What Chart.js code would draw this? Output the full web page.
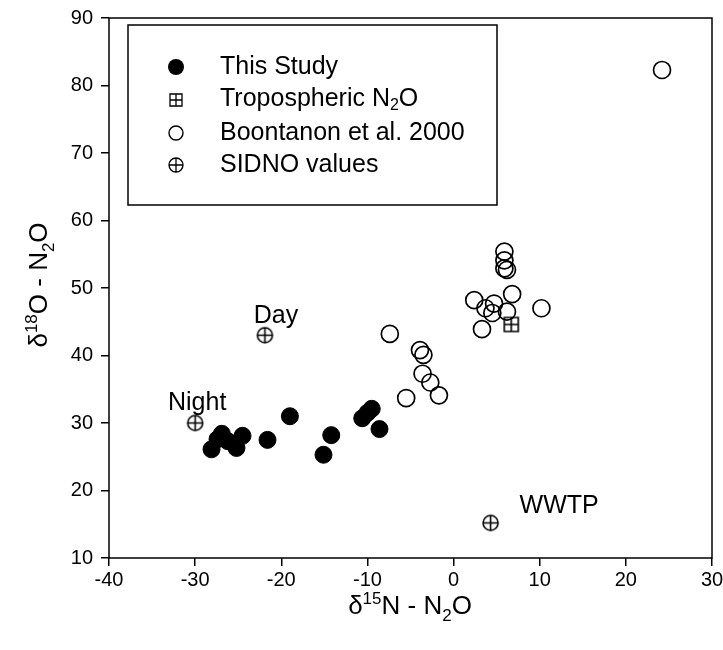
<!DOCTYPE html>
<html>
<head>
<meta charset="utf-8">
<script src="https://cdn.jsdelivr.net/npm/chart.js@4/dist/chart.umd.min.js"></script>
<style>
  html, body { margin: 0; padding: 0; background: #fff; }
  #wrap { width: 723px; height: 650px; }
</style>
</head>
<body>
<div id="wrap"><canvas id="isoChart" width="723" height="650"></canvas></div>
<script>
// values (d15N, d18O)
const studyN = [-28.1, -27.4, -26.9, -26.2, -25.2, -24.5, -21.6, -19.0, -14.2, -15.1, -10.6, -10.0, -9.5, -8.6];
const studyO = [26.1, 27.6, 28.4, 27.3, 26.3, 28.1, 27.5, 31.0, 28.2, 25.3, 30.7, 31.5, 32.1, 29.1];

const tropoN = [6.7];
const tropoO = [44.6];

const boonN = [-7.4, -3.9, -3.5, -3.6, -2.7, -1.7, -5.5, 5.9, 5.9, 5.9, 6.2, 2.4, 3.7, 4.7, 4.5, 6.8, 6.2, 10.2, 3.3, 24.2];
const boonO = [43.2, 40.8, 40.1, 37.3, 36.0, 34.1, 33.7, 55.4, 54.1, 52.9, 52.7, 48.2, 47.0, 47.7, 46.3, 49.1, 46.5, 47.0, 43.9, 82.3];

const sidnoN = [-30.0, -21.9, 4.3];
const sidnoO = [30.0, 43.0, 15.2];
const sidnoLabels = ['Night', 'Day', 'WWTP'];

const xTicks = [-40, -30, -20, -10, 0, 10, 20, 30];
const yTicks = [10, 20, 30, 40, 50, 60, 70, 80, 90];

const FONT = '"Liberation Sans", Arial, sans-serif';

function toPoints(xs, ys) {
    return xs.map((x, i) => ({ x: x, y: ys[i] }));
}

// marker drawing used both for points and legend
function drawCrossCircle(ctx, cx, cy, r, lw) {
    ctx.save();
    ctx.strokeStyle = '#000';
    ctx.lineWidth = lw;
    ctx.beginPath();
    ctx.arc(cx, cy, r, 0, Math.PI * 2);
    ctx.moveTo(cx - r, cy); ctx.lineTo(cx + r, cy);
    ctx.moveTo(cx, cy - r); ctx.lineTo(cx, cy + r);
    ctx.stroke();
    ctx.restore();
}

function drawPlusSquare(ctx, cx, cy, r, lw) {
    ctx.save();
    ctx.strokeStyle = '#000';
    ctx.lineWidth = lw;
    ctx.beginPath();
    ctx.rect(cx - r, cy - r, 2 * r, 2 * r);
    ctx.moveTo(cx - r, cy); ctx.lineTo(cx + r, cy);
    ctx.moveTo(cx, cy - r); ctx.lineTo(cx, cy + r);
    ctx.stroke();
    ctx.restore();
}

function makeMarker(fn, r, lw) {
    const c = document.createElement('canvas');
    const s = Math.ceil(2 * r + lw + 2);
    c.width = s; c.height = s;
    fn(c.getContext('2d'), s / 2, s / 2, r, lw);
    return c;
}

const crossCircleImg = makeMarker(drawCrossCircle, 7.5, 1.6);
const plusSquareImg = makeMarker(drawPlusSquare, 7, 1.6);

// text with super/subscripts: parts = [[text, 'n'|'sup'|'sub'], ...]
function richWidth(ctx, parts, size) {
    let total = 0;
    parts.forEach(p => {
        ctx.font = (p[1] === 'n' ? size : Math.round(size * 0.65)) + 'px ' + FONT;
        total += ctx.measureText(p[0]).width;
    });
    return total;
}

function drawRichLeft(ctx, parts, x, y, size) {
    let cx = x;
    parts.forEach(p => {
        const small = p[1] !== 'n';
        ctx.font = (small ? Math.round(size * 0.65) : size) + 'px ' + FONT;
        let dy = 0;
        if (p[1] === 'sup') dy = -size * 0.4;
        if (p[1] === 'sub') dy = size * 0.25;
        ctx.fillText(p[0], cx, y + dy);
        cx += ctx.measureText(p[0]).width;
    });
}

function drawRichText(ctx, parts, x, y, size) {
    drawRichLeft(ctx, parts, x - richWidth(ctx, parts, size) / 2, y, size);
}

const decorPlugin = {
    id: 'decor',
    afterDraw(chart) {
        const ctx = chart.ctx;
        const a = chart.chartArea;
        ctx.save();

        // frame
        ctx.strokeStyle = '#000';
        ctx.lineWidth = 1.5;
        ctx.strokeRect(a.left, a.top, a.right - a.left, a.bottom - a.top);

        ctx.fillStyle = '#000';
        ctx.textBaseline = 'alphabetic';

        // axis titles
        drawRichText(ctx, [['\u03b4', 'n'], ['15', 'sup'], ['N - N', 'n'], ['2', 'sub'], ['O', 'n']], 410, 614, 26);
        ctx.save();
        ctx.translate(47, 285);
        ctx.rotate(-Math.PI / 2);
        drawRichText(ctx, [['\u03b4', 'n'], ['18', 'sup'], ['O - N', 'n'], ['2', 'sub'], ['O', 'n']], 0, 0, 26);
        ctx.restore();

        // point labels for SIDNO
        const xs = chart.scales.x, ys = chart.scales.y;
        ctx.font = '25px ' + FONT;
        ctx.textAlign = 'center';
        ctx.fillText(sidnoLabels[0], xs.getPixelForValue(sidnoN[0]) + 2, ys.getPixelForValue(sidnoO[0]) - 13);
        ctx.fillText(sidnoLabels[1], xs.getPixelForValue(sidnoN[1]) + 11, ys.getPixelForValue(sidnoO[1]) - 12);
        ctx.textAlign = 'left';
        ctx.fillText(sidnoLabels[2], xs.getPixelForValue(sidnoN[2]) + 29, ys.getPixelForValue(sidnoO[2]) - 10);

        // legend
        ctx.lineWidth = 1.5;
        ctx.fillStyle = '#fff';
        ctx.fillRect(128, 25, 369, 180);
        ctx.strokeRect(128, 25, 369, 180);
        ctx.fillStyle = '#000';
        const mx = 176, tx = 220;
        const rows = [67, 99, 133, 165];
        ctx.beginPath();
        ctx.arc(mx, rows[0], 8, 0, Math.PI * 2);
        ctx.fill();
        drawPlusSquare(ctx, mx, rows[1] + 1, 6, 1.3);
        ctx.beginPath();
        ctx.lineWidth = 1.4;
        ctx.arc(mx, rows[2], 7, 0, Math.PI * 2);
        ctx.stroke();
        drawCrossCircle(ctx, mx, rows[3], 7, 1.3);

        ctx.textBaseline = 'middle';
        ctx.font = '25px ' + FONT;
        ctx.fillText('This Study', tx, rows[0]);
        drawRichLeft(ctx, [['Tropospheric N', 'n'], ['2', 'sub'], ['O', 'n']], tx, rows[1], 25);
        ctx.font = '25px ' + FONT;
        ctx.fillText('Boontanon et al. 2000', tx, rows[2]);
        ctx.fillText('SIDNO values', tx, rows[3]);

        ctx.restore();
    }
};

const tickFont = { family: FONT, size: 20 };

new Chart(document.getElementById('isoChart').getContext('2d'), {
    type: 'scatter',
    data: {
        datasets: [
            {
                label: 'Boontanon et al. 2000',
                data: toPoints(boonN, boonO),
                pointStyle: 'circle',
                pointRadius: 8.5,
                backgroundColor: 'rgba(255,255,255,0)',
                borderColor: '#000',
                borderWidth: 1.7
            },
            {
                label: 'This Study',
                data: toPoints(studyN, studyO),
                pointStyle: 'circle',
                pointRadius: 8.5,
                backgroundColor: '#000',
                borderColor: '#000',
                borderWidth: 1
            },
            {
                label: 'Tropospheric N2O',
                data: toPoints(tropoN, tropoO),
                pointStyle: plusSquareImg
            },
            {
                label: 'SIDNO values',
                data: toPoints(sidnoN, sidnoO),
                pointStyle: crossCircleImg
            }
        ]
    },
    options: {
        responsive: false,
        animation: false,
        layout: { padding: { top: 18, right: 11, left: 0, bottom: 0 } },
        plugins: {
            legend: { display: false },
            tooltip: { enabled: false }
        },
        scales: {
            x: {
                type: 'linear',
                min: -40,
                max: 30,
                afterBuildTicks(scale) { scale.ticks = xTicks.map(v => ({ value: v })); },
                afterFit(scale) {
                    scale.height = 92;
                    scale.paddingLeft = 0;
                    scale.paddingRight = 0;
                },
                grid: { drawOnChartArea: false, drawTicks: true, tickLength: 8, color: '#000', lineWidth: 1.5 },
                border: { display: false },
                ticks: { color: '#000', font: tickFont, padding: 2 }
            },
            y: {
                type: 'linear',
                min: 10,
                max: 90,
                afterBuildTicks(scale) { scale.ticks = yTicks.map(v => ({ value: v })); },
                afterFit(scale) {
                    scale.width = 109;
                    scale.paddingTop = 0;
                    scale.paddingBottom = 0;
                },
                grid: { drawOnChartArea: false, drawTicks: true, tickLength: 8, color: '#000', lineWidth: 1.5 },
                border: { display: false },
                ticks: { color: '#000', font: tickFont, padding: 8 }
            }
        }
    },
    plugins: [decorPlugin]
});
</script>
</body>
</html>
